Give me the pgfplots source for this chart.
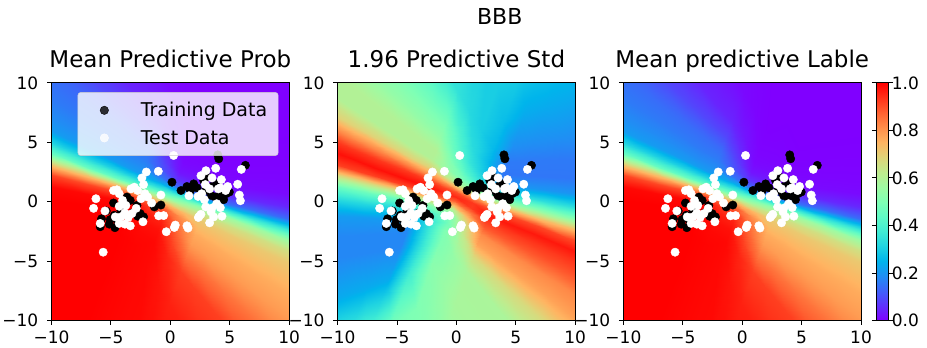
\documentclass[border=0pt]{standalone}
\usepackage{fontspec}
\setmainfont{DejaVu Sans}
\usepackage{pgfplots}
\usepackage{pgfplotstable}
\pgfplotsset{compat=1.18}
\pgfplotsset{colormap={mplrainbow}{rgb=(0.5,0,1) rgb=(0.375,0.195,0.995) rgb=(0.25,0.383,0.981) rgb=(0.125,0.556,0.957) rgb=(0,0.707,0.924) rgb=(0.125,0.831,0.882) rgb=(0.25,0.924,0.831) rgb=(0.375,0.981,0.773) rgb=(0.5,1,0.707) rgb=(0.625,0.981,0.634) rgb=(0.75,0.924,0.556) rgb=(0.875,0.831,0.471) rgb=(1,0.707,0.383) rgb=(1,0.556,0.290) rgb=(1,0.383,0.195) rgb=(1,0.195,0.098) rgb=(1,0,0)}}

% field samples: x y mean-prob 1.96*std (13 scanlines of 21 samples)
\pgfplotstableread{
x y p s
-32.45 -49.30 1 0.5
-22.57 -22.14 1 0.46
-18.62 -11.28 1 0.235
-16.64 -5.85 1 0.18
-15.65 -3.13 1 0.18
-14.86 -0.96 1 0.21
-14.27 0.67 1 0.32
-13.77 2.03 0.99 0.46
-13.38 3.12 0.91 0.68
-13.03 4.07 0.72 0.92
-12.69 5.02 0.45 0.98
-12.34 5.97 0.31 0.93
-11.99 6.92 0.21 0.82
-11.60 8.00 0.185 0.69
-11.10 9.36 0.16 0.6
-10.51 10.99 0.14 0.6
-9.72 13.16 0.09 0.54
-8.73 15.88 0.045 0.48
-6.76 21.31 0.01 0.35
-2.80 32.17 0 0.3
7.08 59.33 0 0.3
-25.81 -41.29 1 0.5
-17.61 -18.73 1 0.46
-14.32 -9.71 1 0.235
-12.68 -5.20 1 0.18
-11.86 -2.95 1 0.18
-11.20 -1.14 1 0.21
-10.71 0.21 1 0.32
-10.30 1.34 0.99 0.46
-9.97 2.24 0.91 0.68
-9.68 3.03 0.72 0.92
-9.40 3.82 0.45 0.98
-9.11 4.61 0.31 0.93
-8.82 5.40 0.21 0.82
-8.49 6.30 0.185 0.69
-8.08 7.43 0.16 0.6
-7.59 8.78 0.14 0.6
-6.93 10.59 0.09 0.54
-6.11 12.84 0.045 0.48
-4.47 17.35 0.01 0.35
-1.19 26.37 0 0.3
7.02 48.93 0 0.3
-20.12 -34.42 1 0.5
-13.35 -15.81 1 0.46
-10.64 -8.37 1 0.235
-9.29 -4.65 1 0.18
-8.61 -2.79 1 0.18
-8.07 -1.30 1 0.21
-7.66 -0.18 1 0.32
-7.32 0.75 0.99 0.46
-7.05 1.49 0.91 0.68
-6.82 2.14 0.72 0.92
-6.58 2.79 0.45 0.98
-6.34 3.45 0.31 0.93
-6.10 4.10 0.21 0.82
-5.83 4.84 0.185 0.69
-5.49 5.77 0.16 0.6
-5.09 6.89 0.14 0.6
-4.55 8.38 0.09 0.54
-3.87 10.24 0.045 0.48
-2.52 13.96 0.01 0.35
0.19 21.40 0 0.3
6.97 40.01 0 0.3
-15.38 -28.70 1 0.5
-9.80 -13.38 1 0.46
-7.57 -7.25 1 0.235
-6.46 -4.19 1 0.18
-5.90 -2.66 1 0.18
-5.46 -1.43 1 0.21
-5.12 -0.51 1 0.32
-4.84 0.25 0.99 0.46
-4.62 0.87 0.91 0.68
-4.42 1.40 0.72 0.92
-4.23 1.94 0.45 0.98
-4.03 2.48 0.31 0.93
-3.84 3.01 0.21 0.82
-3.62 3.62 0.185 0.69
-3.34 4.39 0.16 0.6
-3.00 5.31 0.14 0.6
-2.56 6.53 0.09 0.54
-2.00 8.07 0.045 0.48
-0.88 11.13 0.01 0.35
1.35 17.26 0 0.3
6.92 32.57 0 0.3
-12.53 -25.26 1 0.5
-7.68 -11.92 1 0.46
-5.73 -6.58 1 0.235
-4.76 -3.91 1 0.18
-4.28 -2.58 1 0.18
-3.89 -1.51 1 0.21
-3.60 -0.71 1 0.32
-3.35 -0.04 0.99 0.46
-3.16 0.49 0.91 0.68
-2.99 0.96 0.72 0.92
-2.82 1.43 0.45 0.98
-2.65 1.89 0.31 0.93
-2.48 2.36 0.21 0.82
-2.29 2.89 0.185 0.69
-2.04 3.56 0.16 0.6
-1.75 4.36 0.14 0.6
-1.36 5.43 0.09 0.54
-0.88 6.76 0.045 0.48
0.09 9.43 0.01 0.35
2.04 14.77 0 0.3
6.89 28.11 0 0.3
-9.69 -21.83 0.995 0.5
-5.55 -10.46 0.995 0.48
-3.89 -5.91 0.995 0.378
-3.07 -3.64 0.995 0.34
-2.65 -2.50 0.99 0.34
-2.32 -1.59 0.98 0.34
-2.07 -0.91 0.965 0.41
-1.87 -0.34 0.93 0.53
-1.70 0.12 0.84 0.715
-1.56 0.52 0.675 0.9
-1.41 0.91 0.475 0.965
-1.27 1.31 0.345 0.915
-1.12 1.71 0.23 0.785
-0.95 2.16 0.158 0.635
-0.75 2.73 0.11 0.54
-0.50 3.41 0.083 0.51
-0.17 4.32 0.05 0.45
0.25 5.46 0.025 0.405
1.07 7.74 0.005 0.325
2.73 12.28 0 0.3
6.87 23.65 0 0.3
-6.84 -18.39 0.99 0.5
-3.42 -9.00 0.99 0.5
-2.05 -5.24 0.99 0.52
-1.37 -3.36 0.99 0.5
-1.03 -2.42 0.98 0.5
-0.75 -1.67 0.96 0.47
-0.55 -1.10 0.93 0.5
-0.38 -0.63 0.87 0.6
-0.24 -0.26 0.77 0.75
-0.12 0.07 0.63 0.88
0 0.40 0.5 0.95
0.12 0.73 0.38 0.9
0.24 1.06 0.25 0.75
0.38 1.43 0.13 0.58
0.55 1.90 0.06 0.48
0.75 2.47 0.025 0.42
1.03 3.22 0.01 0.36
1.37 4.16 0.005 0.33
2.05 6.04 0 0.3
3.42 9.80 0 0.3
6.84 19.19 0 0.3
-6.87 -22.85 0.99 0.5
-2.73 -11.48 0.988 0.51
-1.07 -6.94 0.975 0.55
-0.25 -4.66 0.955 0.543
0.17 -3.52 0.915 0.585
0.50 -2.61 0.875 0.625
0.75 -1.93 0.848 0.66
0.96 -1.36 0.803 0.745
1.12 -0.91 0.74 0.84
1.27 -0.51 0.645 0.925
1.41 -0.11 0.53 0.93
1.56 0.29 0.365 0.815
1.70 0.68 0.195 0.635
1.87 1.14 0.09 0.46
2.07 1.71 0.036 0.34
2.32 2.39 0.015 0.288
2.65 3.30 0.006 0.26
3.07 4.44 0.003 0.26
3.89 6.71 0 0.268
5.55 11.26 0 0.3
9.69 22.63 0 0.3
-6.89 -27.31 0.99 0.5
-2.04 -13.97 0.985 0.52
-0.09 -8.63 0.96 0.58
0.88 -5.96 0.92 0.585
1.36 -4.63 0.85 0.67
1.75 -3.56 0.79 0.78
2.04 -2.76 0.765 0.82
2.29 -2.09 0.735 0.89
2.48 -1.56 0.71 0.93
2.65 -1.09 0.66 0.97
2.82 -0.63 0.56 0.91
2.99 -0.16 0.35 0.73
3.16 0.31 0.14 0.52
3.35 0.84 0.05 0.34
3.60 1.51 0.012 0.2
3.89 2.31 0.005 0.155
4.28 3.38 0.002 0.16
4.76 4.71 0 0.19
5.73 7.38 0 0.235
7.68 12.72 0 0.3
12.53 26.06 0 0.3
-6.92 -31.77 0.99 0.5
-1.35 -16.46 0.985 0.52
0.88 -10.33 0.96 0.58
2.00 -7.27 0.92 0.585
2.56 -5.73 0.85 0.67
3.00 -4.51 0.79 0.78
3.34 -3.59 0.765 0.82
3.62 -2.82 0.735 0.89
3.84 -2.21 0.71 0.93
4.03 -1.68 0.66 0.97
4.23 -1.14 0.56 0.91
4.42 -0.60 0.35 0.73
4.62 -0.07 0.14 0.52
4.84 0.55 0.05 0.34
5.12 1.31 0.012 0.2
5.46 2.23 0.005 0.155
5.90 3.46 0.002 0.16
6.46 4.99 0 0.19
7.57 8.05 0 0.235
9.80 14.18 0 0.3
15.38 29.50 0 0.3
-6.97 -39.21 0.99 0.5
-0.19 -20.60 0.985 0.52
2.52 -13.16 0.96 0.58
3.87 -9.44 0.92 0.585
4.55 -7.58 0.85 0.67
5.09 -6.09 0.79 0.78
5.49 -4.97 0.765 0.82
5.83 -4.04 0.735 0.89
6.10 -3.30 0.71 0.93
6.34 -2.65 0.66 0.97
6.58 -1.99 0.56 0.91
6.82 -1.34 0.35 0.73
7.05 -0.69 0.14 0.52
7.32 0.05 0.05 0.34
7.66 0.98 0.012 0.2
8.07 2.10 0.005 0.155
8.61 3.59 0.002 0.16
9.29 5.45 0 0.19
10.64 9.17 0 0.235
13.35 16.61 0 0.3
20.12 35.22 0 0.3
-7.02 -48.13 0.99 0.5
1.19 -25.57 0.985 0.52
4.47 -16.55 0.96 0.58
6.11 -12.04 0.92 0.585
6.93 -9.79 0.85 0.67
7.59 -7.98 0.79 0.78
8.08 -6.63 0.765 0.82
8.49 -5.50 0.735 0.89
8.82 -4.60 0.71 0.93
9.11 -3.81 0.66 0.97
9.40 -3.02 0.56 0.91
9.68 -2.23 0.35 0.73
9.97 -1.44 0.14 0.52
10.30 -0.54 0.05 0.34
10.71 0.59 0.012 0.2
11.20 1.94 0.005 0.155
11.86 3.75 0.002 0.16
12.68 6.00 0 0.19
14.32 10.51 0 0.235
17.61 19.53 0 0.3
25.81 42.09 0 0.3
-7.08 -58.53 0.99 0.5
2.80 -31.37 0.985 0.52
6.76 -20.51 0.96 0.58
8.73 -15.08 0.92 0.585
9.72 -12.36 0.85 0.67
10.51 -10.19 0.79 0.78
11.10 -8.56 0.765 0.82
11.60 -7.20 0.735 0.89
11.99 -6.12 0.71 0.93
12.34 -5.17 0.66 0.97
12.69 -4.22 0.56 0.91
13.03 -3.27 0.35 0.73
13.38 -2.32 0.14 0.52
13.77 -1.23 0.05 0.34
14.27 0.13 0.012 0.2
14.86 1.76 0.005 0.155
15.65 3.93 0.002 0.16
16.64 6.65 0 0.19
18.62 12.08 0 0.235
22.57 22.94 0 0.3
32.45 50.10 0 0.3
}\field

\pgfplotstableread{
x y
0.14 1.64
4.0 3.94
4.08 3.61
6.32 3.06
0.9 0.94
1.4 1.28
1.97 1.5
1.69 0.94
2.81 1.78
3.48 1.28
4.69 0.67
4.97 0.81
4.49 0.17
3.79 0.39
4.16 0.53
2.95 0.94
2.25 1.17
3.43 0.53
3.93 1.5
3.15 2.06
-4.78 -0.11
-5.39 -0.78
-5.79 -1.44
-5.9 -2.11
-5.14 -1.89
-4.66 -2.19
-4.72 -1.14
-4.1 -1.0
-3.37 0.11
-2.81 -0.31
-2.53 -1.0
-2.25 -1.28
-1.35 -0.44
-0.79 -0.28
-4.16 -0.72
-3.17 -0.94
-5.06 -1.5
-3.65 0.39
-4.44 -1.56
-2.75 -1.22
}\train

\pgfplotstableread{
x y
0.28 3.89
-1.01 2.56
-2.02 2.5
-2.39 2.0
-2.25 1.44
-3.03 1.22
-3.31 1.08
-4.49 1.0
-4.78 0.94
-6.26 0.25
-6.46 -0.56
-5.5 -0.78
-5.9 -1.83
-5.65 -4.25
-0.79 0.56
-0.98 -1.19
-0.56 -1.17
-0.34 -2.53
0.42 -1.97
0.34 -2.17
1.4 -2.03
1.49 -2.22
2.36 -1.33
2.58 -1.06
3.31 -1.78
4.35 -1.22
4.21 -0.5
5.9 0.08
5.81 0.56
5.67 1.47
5.98 2.72
3.82 2.81
3.0 2.61
2.58 2.19
3.51 2.0
4.3 1.86
1.57 0.5
2.33 0.44
2.87 0.17
2.98 -0.44
3.51 -0.53
3.9 -0.17
4.66 0.94
4.21 1.17
3.31 1.08
2.95 1.44
2.64 0.67
3.65 -1.28
3.43 -0.86
2.44 -1.22
4.04 1.08
4.83 1.28
-4.3 0.67
-2.75 0.94
-2.13 0.67
-1.91 0.39
-2.47 0.25
-2.87 -0.56
-3.74 -0.31
-4.3 -0.39
-3.82 -0.94
-4.16 -1.28
-3.54 -1.33
-4.3 -1.83
-3.82 -1.89
-3.37 -2.03
-2.3 -1.69
-1.57 -0.11
-4.02 0.11
-3.23 -1.0
-4.63 -1.28
}\test

\pgfplotsset{
  panel/.style={
    scale only axis, width=237.6bp, height=237.6bp,
    anchor=south west,
    xmin=-10, xmax=10, ymin=-10, ymax=10,
    axis on top,
    colormap name=mplrainbow, point meta min=0, point meta max=1,
    xtick={-10,-5,0,5,10}, ytick={-10,-5,0,5,10},
    xticklabels={−10,−5,0,5,10}, yticklabels={−10,−5,0,5,10},
    tick align=outside, tick pos=left,
    major tick length=4.5bp,
    every tick/.style={black, line width=0.9bp},
    axis line style={line width=0.9bp},
    ticklabel style={font=\fontsize{17bp}{20bp}\selectfont},
    xticklabel style={anchor=base, inner sep=0pt, yshift=-18.3bp},
    yticklabel style={anchor=east, inner sep=0pt, xshift=-8.5bp},
    title style={font=\fontsize{23bp}{27bp}\selectfont, anchor=base, at={(0.5,1)}, yshift=9.4bp},
  },
  fieldplot/.style={surf, shader=interp, mesh/rows=13, mesh/cols=21, forget plot},
  trainplot/.style={only marks, mark=*, mark size=4.2bp, mark options={fill=black, draw=black}},
  testplot/.style={only marks, mark=*, mark size=4.2bp, mark options={fill=white, draw=white}},
}

\begin{document}
\begin{tikzpicture}
\begin{axis}[panel, at={(51.5bp,27.5bp)}, title={Mean Predictive Prob},
  legend style={at={(0.11,0.961)}, anchor=north west, font=\fontsize{19bp}{22bp}\selectfont,
    fill=white, fill opacity=0.8, draw opacity=1, text opacity=1, draw=black!20,
    rounded corners=3bp, inner xsep=10bp, inner ysep=9bp, row sep=10bp,
    nodes={inner sep=1bp}},
  legend cell align=left,
  legend image code/.code={\draw[#1] plot coordinates {(16.5bp,0bp)}; \path[draw=none,fill=none] (0bp,0bp) (24bp,0bp);},
  ]
\addplot[fieldplot, point meta=\thisrow{p}] table[x=x, y=y] {\field};
\addplot[trainplot] table[x=x, y=y] {\train};
\addlegendentry{\hspace{28bp}Training Data}
\addplot[testplot] table[x=x, y=y] {\test};
\addlegendentry{\hspace{28bp}Test Data}
\end{axis}
\begin{axis}[panel, at={(337.6bp,27.5bp)}, title={1.96 Predictive Std}]
\addplot[fieldplot, point meta=\thisrow{s}] table[x=x, y=y] {\field};
\addplot[trainplot] table[x=x, y=y] {\train};
\addplot[testplot] table[x=x, y=y] {\test};
\end{axis}
\begin{axis}[panel, at={(623.4bp,27.5bp)}, title={Mean predictive Lable},
  colorbar,
  colorbar style={at={(parent axis.north east)}, anchor=north west, xshift=6.8bp,
    scale only axis, width=12.4bp, height=237.6bp,
    ytick={0,0.2,0.4,0.6,0.8,1}, yticklabels={0.0,0.2,0.4,0.6,0.8,1.0},
    tick align=outside, major tick length=4.5bp,
    every tick/.style={black, line width=0.9bp},
    axis line style={line width=0.9bp},
    yticklabel style={font=\fontsize{17bp}{20bp}\selectfont, anchor=west, inner sep=0pt, xshift=-1.5bp}},
  ]
\addplot[fieldplot, point meta=\thisrow{p}] table[x=x, y=y] {\field};
\addplot[trainplot] table[x=x, y=y] {\train};
\addplot[testplot] table[x=x, y=y] {\test};
\end{axis}
\node[font=\fontsize{22bp}{26bp}\selectfont, anchor=base] at (499.7bp,323.7bp) {BBB};
\pgfresetboundingbox
\path[use as bounding box] (0bp,0bp) rectangle (927bp,348bp);
\end{tikzpicture}
\end{document}
